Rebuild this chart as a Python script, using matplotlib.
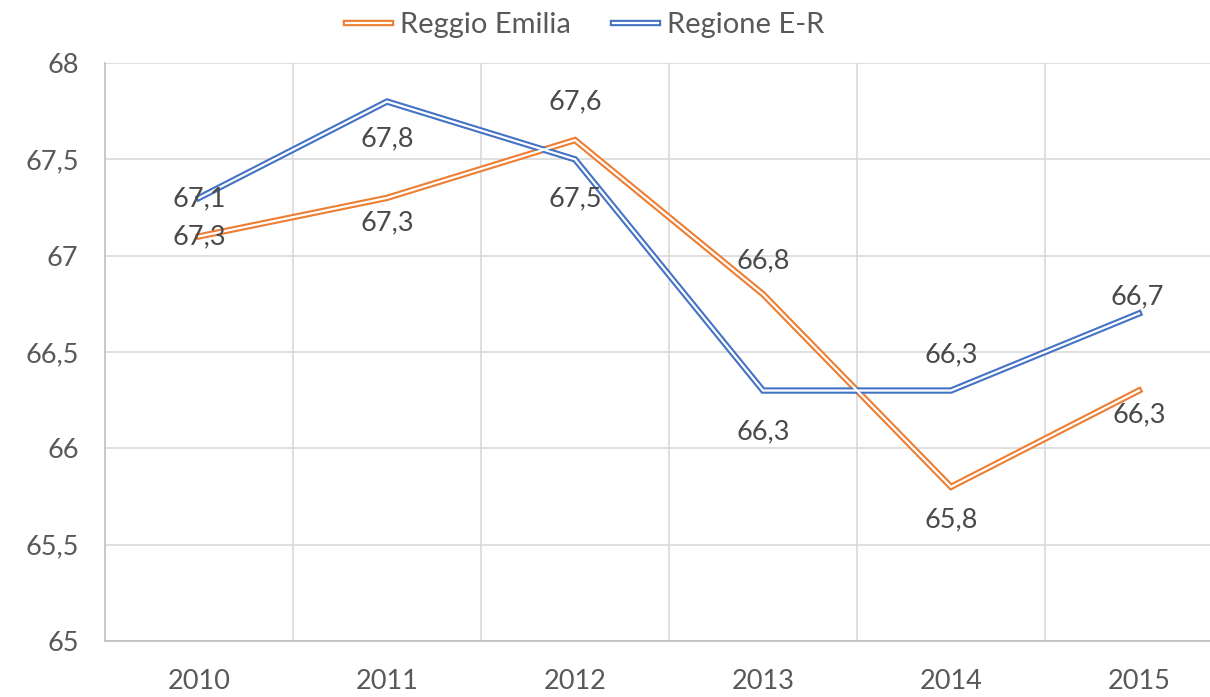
import matplotlib
matplotlib.use("Agg")
import matplotlib.pyplot as plt
from matplotlib.lines import Line2D
import matplotlib.patheffects as pe

plt.rcParams['font.family'] = ['Lato', 'DejaVu Sans']

years = ["2010", "2011", "2012", "2013", "2014", "2015"]
reggio = [67.1, 67.3, 67.6, 66.8, 65.8, 66.3]
regione = [67.3, 67.8, 67.5, 66.3, 66.3, 66.7]
yticks = [65, 65.5, 66, 66.5, 67, 67.5, 68]
ytick_labels = ["65", "65,5", "66", "66,5", "67", "67,5", "68"]

# label offsets (pixels, dy positive = up)
reggio_off = [(0, 38), (0, -25), (0, 38), (0, 33), (0, -33), (0, -24)]
regione_off = [(0, -39), (0, -37), (0, -39), (0, -41), (0, 36), (-2, 17)]

ORANGE = "#ED7D31"
BLUE = "#4472C4"
GRAY = "#595959"
FS = 19.5
LW_OUT = 4.6
LW_IN = 1.6

W, H = 1210, 697
fig = plt.figure(figsize=(W / 100, H / 100), dpi=100)
left, right, top, bottom = 105, 1233, 63, 641
ax = fig.add_axes([left / W, 1 - bottom / H, (right - left) / W, (bottom - top) / H])

x = list(range(len(years)))
ax.set_xlim(-0.5, len(years) - 0.5)
ax.set_ylim(65, 68)

ax.set_yticks(yticks)
ax.set_yticklabels(ytick_labels)
ax.set_xticks([i + 0.5 for i in x[:-1]], minor=True)
ax.set_xticks(x)
ax.set_xticklabels(years)
ax.grid(True, which='minor', axis='x', color="#D9D9D9", lw=1.2)
ax.grid(True, which='major', axis='y', color="#D9D9D9", lw=1.2)
ax.tick_params(which='both', length=0)
ax.tick_params(axis='y', labelsize=FS, colors=GRAY, pad=19)
ax.tick_params(axis='x', labelsize=FS, colors=GRAY, pad=20)
for s in ['top', 'right']:
    ax.spines[s].set_visible(False)
for s in ['left', 'bottom']:
    ax.spines[s].set_color("#BFBFBF")
    ax.spines[s].set_linewidth(1.2)
ax.set_axisbelow(True)

def double_line(vals, color):
    ax.plot(x, vals, color=color, lw=LW_OUT, solid_joinstyle='miter', zorder=3)
    ax.plot(x, vals, color="white", lw=LW_IN, solid_joinstyle='miter', zorder=4)

double_line(reggio, ORANGE)
double_line(regione, BLUE)

def labels(vals, offs):
    for xi, v, (dx, dy) in zip(x, vals, offs):
        ax.annotate(f"{v:.1f}".replace(".", ","), (xi, v),
                    xytext=(dx * 0.72, dy * 0.72), textcoords='offset points',
                    ha='center', va='center', fontsize=FS, color="#4a4a4a",
                    zorder=5)

labels(reggio, reggio_off)
labels(regione, regione_off)

handles = [
    Line2D([], [], color=ORANGE, lw=LW_OUT),
    Line2D([], [], color=BLUE, lw=LW_OUT),
]
leg = fig.legend(handles, ["Reggio Emilia", "Regione E-R"], loc='center',
                 bbox_to_anchor=(585 / W, 1 - 25 / H), ncol=2, frameon=False,
                 fontsize=21, handlelength=1.55, handletextpad=0.3,
                 columnspacing=1.45, labelcolor=GRAY)
for h in leg.legend_handles:
    h.set_path_effects([pe.Stroke(linewidth=LW_OUT, foreground=h.get_color()),
                        pe.Stroke(linewidth=LW_IN, foreground="white")])

fig.savefig("out.png", dpi=100)
